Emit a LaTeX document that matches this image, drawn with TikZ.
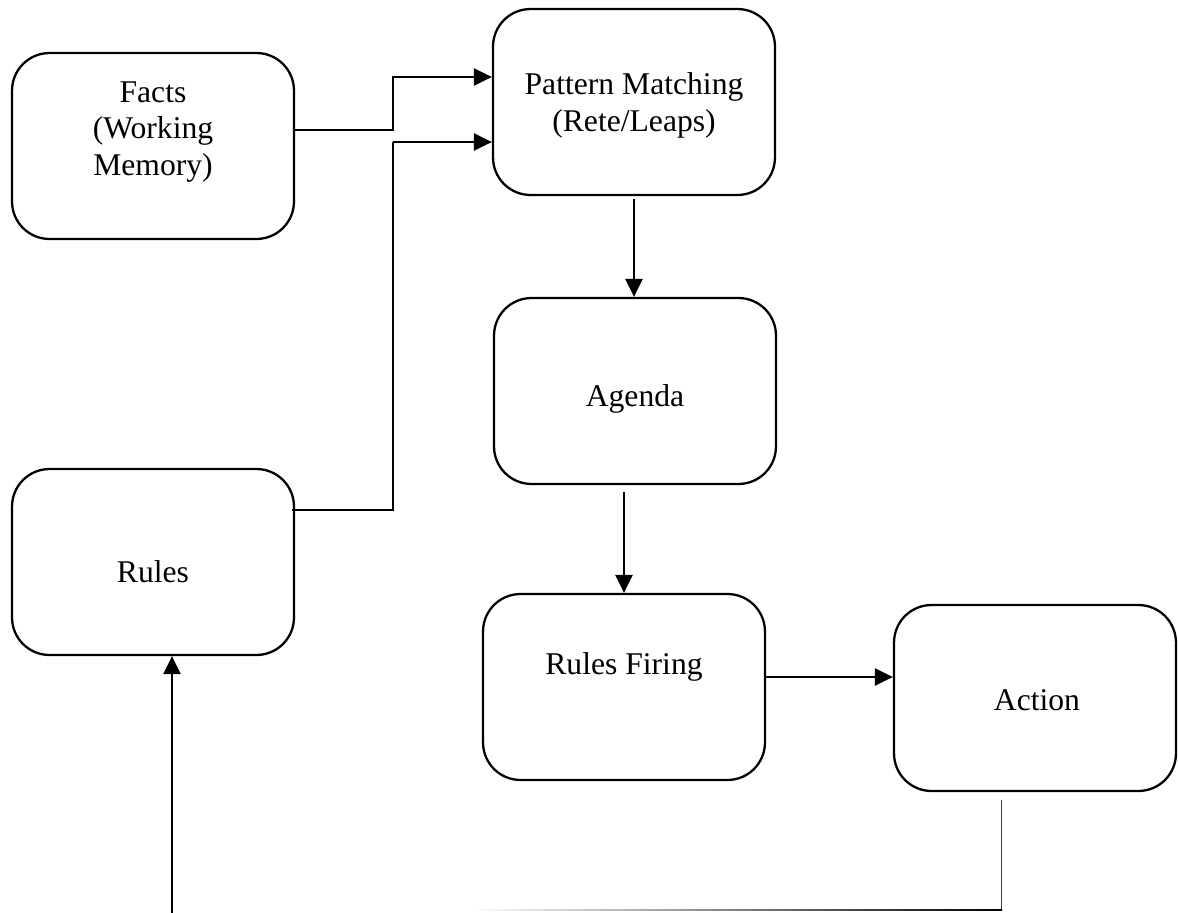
\documentclass[tikz,border=0pt]{standalone}
\usepackage{fontspec}
\setmainfont{Liberation Serif}
\usetikzlibrary{arrows.meta,calc}
\begin{document}
\begin{tikzpicture}[x=0.02cm,y=-0.02cm,
  box/.style={draw, line width=1.3pt, rounded corners=0.75cm,
    minimum width=5.64cm, minimum height=3.72cm, inner sep=0pt},
  lbl/.style={font=\fontsize{18}{21}\selectfont, align=center, inner sep=0pt},
  arr/.style={line width=1.4pt, -{Triangle[length=0.36cm,width=0.34cm]}},
  link/.style={line width=1.4pt},
  faint/.style={line width=0.5pt, draw=black!75}]
\useasboundingbox (0,0) rectangle (1178,913);

% boxes
\node[box] (facts)   at (153,146) {};
\node[box] (pattern) at (634,102) {};
\node[box] (agenda)  at (635,391) {};
\node[box] (rules)   at (153,562) {};
\node[box] (firing)  at (624,687) {};
\node[box] (action)  at (1035,698) {};

% labels
\node[lbl] (facts-t)   at ($(facts)+(0,-14)$)  {Facts\\(Working\\Memory)};
\node[lbl] (pattern-t) at ($(pattern)+(0,3)$)  {Pattern Matching\\(Rete/Leaps)};
\node[lbl] (agenda-t)  at ($(agenda)+(0,8)$)   {Agenda};
\node[lbl] (rules-t)   at ($(rules)+(0,10)$)   {Rules};
\node[lbl] (firing-t)  at ($(firing)+(0,-20)$) {Rules Firing};
\node[lbl] (action-t)  at ($(action)+(2,2)$)   {Action};

% inputs to the matcher
\coordinate (j1) at (393,77);
\coordinate (j2) at (393,142);
\draw[arr] ([yshift=0.32cm]facts.east) -| (j1) -- (j1 -| pattern.west);
\draw[link] ([xshift=-0.06cm,yshift=1.04cm]rules.east) -| (j2);
\draw[arr] (j2) -- (j2 -| pattern.west);

% main flow
\draw[arr] ([yshift=-0.06cm]pattern.south) -- (pattern.south |- agenda.north);
\draw[arr] ([yshift=-0.14cm]agenda.south -| firing.north) -- (firing.north);
\draw[arr] ([yshift=0.2cm]firing.east) -- ([yshift=0.2cm]firing.east -| action.west);

% feedback from action back to rules
\coordinate (f1) at (1001,800);
\coordinate (f2) at (1001,910);
\coordinate (f3) at (470,910);
\draw[faint] (f1) -- (f2);
\shade[left color=white, right color=black] (f3) ++(0,-0.6) rectangle ($(f2)+(1,0.6)$);
\coordinate (b1) at (172,913);
\draw[arr] (b1) -- (b1 |- rules.south);
\end{tikzpicture}
\end{document}
